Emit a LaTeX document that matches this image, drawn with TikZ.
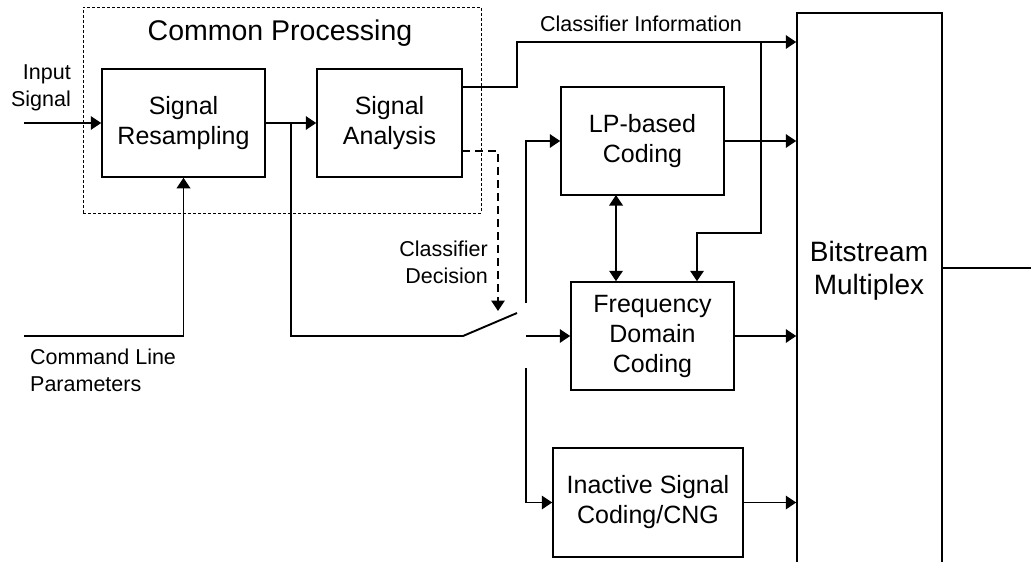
\documentclass[tikz,border=0pt]{standalone}
\usepackage{fontspec}
\setmainfont{Liberation Sans}
\usetikzlibrary{arrows.meta,calc}
\begin{document}
\begin{tikzpicture}[x=1pt,y=-1pt,
  box/.style={draw,line width=1.5pt,align=center,inner sep=0pt,font=\fontsize{25}{30}\selectfont},
  lbl/.style={inner sep=0pt,font=\fontsize{21.5}{27}\selectfont},
  conn/.style={line width=1.9pt},
  arr/.style={conn,-{Triangle[length=10.5pt,width=13.5pt]}},
  darr/.style={conn,{Triangle[length=10.5pt,width=13.5pt]}-{Triangle[length=10.5pt,width=13.5pt]}},
  dasharr/.style={line width=1.6pt,dash pattern=on 8pt off 5pt,-{Triangle[length=10.5pt,width=13.5pt]}}]
\useasboundingbox (0,0) rectangle (1031,562);
\clip (0,0) rectangle (1031,562);
% common processing frame
\node[draw,line width=1pt,dash pattern=on 3pt off 2pt,minimum width=398pt,minimum height=206pt,inner sep=0pt] (cp) at (282,110) {};
\node[inner sep=0pt,font=\fontsize{28.5}{33}\selectfont] (title) at (280,33) {Common Processing};
% blocks
\node[box,minimum width=163pt,minimum height=108pt] (rs) at (183.5,123) {Signal\\Resampling};
\node[box,minimum width=145pt,minimum height=108pt] (sa) at (389.5,123) {Signal\\Analysis};
\node[box,minimum width=163pt,minimum height=108pt] (lp) at (642.5,141) {LP-based\\Coding};
\node[box,minimum width=163pt,minimum height=108pt] (fd) at (652.5,336) {Frequency\\Domain\\Coding};
\node[box,minimum width=190pt,minimum height=109pt] (ina) at (648,502.5) {Inactive Signal\\Coding/CNG};
\node[draw,line width=1.5pt,minimum width=145pt,minimum height=600pt,anchor=north,inner sep=0pt] (mux) at (869.5,12) {};
\node[inner sep=0pt,align=center,font=\fontsize{28}{33}\selectfont] (muxt) at (869,271) {Bitstream\\Multiplex};
% labels
\node[lbl,align=right,anchor=east] (inl) at (71,88) {Input\\Signal};
\node[lbl,align=left,anchor=west] (cml) at (30,370) {Command Line\\Parameters};
\node[lbl,align=right,anchor=east] (cdl) at (488,262) {Classifier\\Decision};
\node[lbl] (cil) at (641,24) {Classifier Information};
% coordinates
\coordinate (in) at (24,123);
\coordinate (cmd) at (24,336);
\coordinate (br) at (291,123);
\coordinate (sw0) at (291,336);
\coordinate (sw1) at (463,336);
\coordinate (sw2) at (517,313);
\coordinate (c1) at (526,303);
\coordinate (c2) at (526,336);
\coordinate (c3) at (526,368);
\coordinate (saout) at (462,87);
\coordinate (j1) at (517,87);
\coordinate (j2) at (517,42);
\coordinate (ci) at (761,42);
\coordinate (k1) at (697,233);
\coordinate (d1) at (616,195);
\coordinate (sad) at (462,151);
\coordinate (dd) at (498,311);
\coordinate (out) at (1031,268);
% connectors
\draw[arr] (in) -- (rs.west);
\draw[arr] (cmd) -| (rs.south);
\draw[arr] (rs.east) -- (sa.west);
\draw[conn] (br) -- (sw0) -- (sw1) -- (sw2);
\draw[arr] (c1) |- (lp.west);
\draw[arr] (c2) -- (fd.west);
\draw[arr] (c3) |- (ina.west);
\draw[arr] (saout) -- (j1) -- (j2) -- (j2 -| mux.west);
\draw[arr] (ci) |- (k1) -- (k1 |- fd.north);
\draw[darr] (d1) -- (d1 |- fd.north);
\draw[dasharr] (sad) -| (dd);
\draw[arr] (lp.east) -- (lp.east -| mux.west);
\draw[arr] (fd.east) -- (fd.east -| mux.west);
\draw[arr] (ina.east) -- (ina.east -| mux.west);
\draw[conn] (out -| mux.east) -- (out);
\end{tikzpicture}
\end{document}
